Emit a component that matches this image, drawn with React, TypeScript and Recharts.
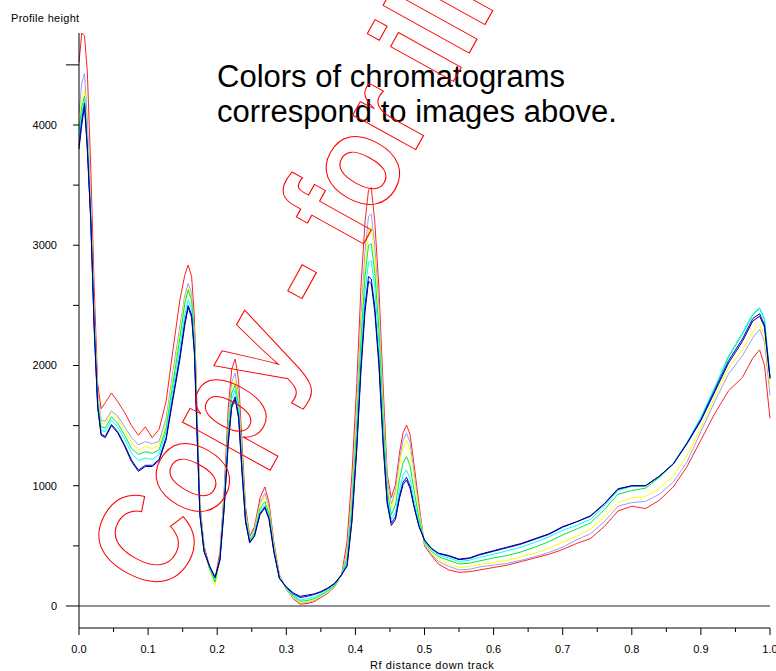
import React from "react";
import { LineChart, Line, XAxis, YAxis, ReferenceLine } from "recharts";

// Rf positions (shared by every track)
const RF = [
  0, 0.004, 0.008, 0.012, 0.017, 0.022, 0.027, 0.032, 0.038, 0.047,
  0.056, 0.066, 0.076, 0.086, 0.096, 0.106, 0.116, 0.126, 0.136, 0.146,
  0.153, 0.158, 0.163, 0.167, 0.171, 0.175, 0.181, 0.189, 0.197, 0.204,
  0.21, 0.216, 0.221, 0.226, 0.231, 0.236, 0.241, 0.247, 0.254, 0.262,
  0.269, 0.275, 0.282, 0.29, 0.3, 0.31, 0.32, 0.33, 0.34, 0.35,
  0.36, 0.37, 0.38, 0.388, 0.395, 0.402, 0.408, 0.414, 0.419, 0.423,
  0.428, 0.434, 0.44, 0.446, 0.452, 0.458, 0.464, 0.469, 0.474, 0.479,
  0.485, 0.492, 0.5, 0.51, 0.52, 0.535, 0.55, 0.565, 0.58, 0.6,
  0.62, 0.64, 0.66, 0.68, 0.7, 0.72, 0.74, 0.76, 0.78, 0.8,
  0.82, 0.84, 0.86, 0.88, 0.9, 0.92, 0.94, 0.96, 0.975, 0.985,
  0.992, 1.0,
];

const RED = [
  4520, 4765, 4740, 4450, 3650, 2650, 1850, 1640, 1690, 1771,
  1700, 1610, 1500, 1420, 1490, 1400, 1470, 1700, 2130, 2545,
  2750, 2836, 2740, 2400, 1600, 860, 500, 330, 230, 450,
  950, 1650, 1970, 2054, 1880, 1350, 830, 580, 660, 900,
  990, 860, 530, 260, 140, 60, 15, 20, 35, 70,
  105, 160, 260, 540, 1100, 1850, 2650, 3200, 3460, 3480,
  3200, 2650, 1850, 1100, 900, 1010, 1280, 1440, 1505, 1430,
  1170, 850, 500, 420, 350, 300, 280, 285, 300, 320,
  340, 370, 400, 430, 470, 520, 560, 660, 790, 830,
  810, 880, 990, 1160, 1380, 1600, 1790, 1900, 2060, 2130,
  2000, 1560,
];

const LAVENDER = [
  4100, 4350, 4430, 4050, 3380, 2450, 1780, 1540, 1540, 1622,
  1580, 1490, 1400, 1340, 1366, 1350, 1370, 1560, 1950, 2330,
  2580, 2683, 2600, 2300, 1530, 830, 480, 310, 200, 410,
  900, 1550, 1860, 1935, 1760, 1260, 790, 570, 640, 860,
  937, 820, 510, 255, 140, 65, 25, 30, 45, 75,
  110, 160, 255, 460, 930, 1650, 2400, 2950, 3240, 3260,
  3000, 2480, 1720, 1040, 850, 960, 1230, 1380, 1437, 1360,
  1110, 810, 510, 430, 370, 330, 300, 305, 325, 340,
  355, 380, 410, 445, 490, 550, 600, 700, 830, 860,
  870, 930, 1030, 1200, 1450, 1700, 1930, 2080, 2230, 2300,
  2200, 1750,
];

const YELLOW = [
  4000, 4220, 4300, 3930, 3300, 2400, 1740, 1520, 1520, 1605,
  1560, 1460, 1360, 1300, 1325, 1310, 1340, 1520, 1900, 2280,
  2550, 2642, 2560, 2250, 1500, 810, 470, 300, 175, 390,
  880, 1500, 1810, 1879, 1710, 1220, 770, 560, 625, 840,
  909, 800, 500, 250, 140, 70, 30, 35, 50, 80,
  115, 165, 255, 430, 880, 1580, 2300, 2850, 3130, 3150,
  2900, 2400, 1650, 1000, 820, 920, 1170, 1320, 1380, 1300,
  1060, 780, 520, 440, 390, 350, 320, 330, 345, 360,
  380, 410, 440, 480, 530, 580, 640, 740, 860, 900,
  910, 980, 1080, 1250, 1480, 1740, 1980, 2130, 2280, 2340,
  2250, 1820,
];

const GREEN = [
  3950, 4150, 4240, 3880, 3260, 2370, 1710, 1490, 1480, 1574,
  1520, 1420, 1310, 1260, 1283, 1270, 1300, 1480, 1850, 2230,
  2510, 2628, 2540, 2230, 1480, 800, 470, 310, 200, 400,
  870, 1470, 1770, 1838, 1670, 1190, 750, 550, 610, 810,
  867, 770, 480, 240, 145, 80, 40, 45, 60, 90,
  125, 170, 255, 400, 830, 1500, 2200, 2750, 3000, 3010,
  2780, 2300, 1560, 960, 760, 840, 1060, 1190, 1242, 1170,
  960, 730, 530, 455, 410, 380, 350, 355, 375, 400,
  420, 450, 490, 535, 590, 640, 690, 800, 930, 960,
  980, 1070, 1180, 1360, 1560, 1810, 2070, 2260, 2420, 2475,
  2380, 1900,
];

const CYAN = [
  3900, 4100, 4210, 3850, 3240, 2340, 1690, 1460, 1450, 1547,
  1490, 1390, 1270, 1210, 1228, 1220, 1260, 1450, 1800, 2150,
  2420, 2545, 2470, 2180, 1450, 780, 460, 320, 220, 400,
  850, 1430, 1720, 1796, 1630, 1160, 730, 540, 600, 790,
  840, 745, 465, 235, 150, 90, 50, 60, 75, 100,
  135, 180, 260, 370, 780, 1420, 2100, 2620, 2860, 2870,
  2650, 2180, 1480, 920, 720, 780, 970, 1090, 1131, 1060,
  880, 690, 540, 470, 425, 400, 370, 380, 405, 430,
  460, 490, 530, 575, 630, 670, 720, 830, 960, 995,
  1000, 1080, 1185, 1360, 1570, 1820, 2080, 2270, 2430, 2480,
  2390, 1910,
];

const BLUE = [
  3830, 4040, 4180, 3820, 3220, 2320, 1670, 1430, 1410, 1510,
  1450, 1340, 1215, 1130, 1170, 1170, 1220, 1400, 1740, 2080,
  2360, 2500, 2420, 2120, 1420, 760, 455, 330, 235, 390,
  820, 1380, 1670, 1740, 1580, 1120, 710, 530, 585, 770,
  825, 730, 455, 230, 155, 100, 70, 80, 95, 115,
  145, 185, 260, 340, 720, 1330, 1990, 2500, 2740, 2720,
  2490, 2040, 1380, 870, 690, 740, 920, 1030, 1070, 1000,
  830, 665, 545, 478, 436, 415, 385, 395, 425, 455,
  485, 515, 555, 595, 655, 700, 745, 845, 970, 1000,
  1000, 1080, 1182, 1355, 1550, 1795, 2040, 2220, 2390, 2430,
  2340, 1900,
];

const NAVY = [
  3800, 4000, 4160, 3800, 3200, 2300, 1650, 1420, 1400, 1500,
  1440, 1330, 1200, 1120, 1160, 1160, 1210, 1380, 1720, 2050,
  2330, 2484, 2400, 2100, 1400, 750, 450, 330, 240, 380,
  800, 1350, 1650, 1720, 1560, 1100, 700, 525, 580, 760,
  815, 720, 450, 230, 160, 110, 80, 90, 100, 120,
  150, 190, 260, 330, 700, 1300, 1950, 2450, 2700, 2680,
  2450, 2000, 1350, 850, 670, 720, 900, 1010, 1048, 980,
  820, 660, 550, 480, 440, 420, 390, 400, 430, 460,
  490, 520, 560, 600, 660, 700, 750, 850, 975, 1000,
  1000, 1080, 1180, 1350, 1540, 1780, 2020, 2200, 2370, 2410,
  2320, 1890,
];

const X_TICKS = [0, 0.05, 0.1, 0.15, 0.2, 0.25, 0.3, 0.35, 0.4, 0.45, 0.5, 0.55, 0.6, 0.65, 0.7, 0.75, 0.8, 0.85, 0.9, 0.95, 1.0];
const Y_TICKS = [0, 500, 1000, 1500, 2000, 2500, 3000, 3500, 4000, 4500];

const SERIES = [
  { key: "red", color: "#ff2020", values: RED },
  { key: "lavender", color: "#9a9aff", values: LAVENDER },
  { key: "yellow", color: "#ffff00", values: YELLOW },
  { key: "green", color: "#00e83c", values: GREEN },
  { key: "cyan", color: "#00ffff", values: CYAN },
  { key: "blue", color: "#0000ff", values: BLUE },
  { key: "navy", color: "#000070", values: NAVY },
];

const data = RF.map((x, i) => {
  const row: Record<string, number> = { x };
  SERIES.forEach((s) => (row[s.key] = s.values[i]));
  return row;
});

const FONT = "'Liberation Sans', Arial, sans-serif";

function XTick(props: any) {
  const { x, y, payload } = props;
  const v = payload.value;
  const major = Math.round(v * 100) % 10 === 0;
  return (
    <g>
      <line x1={x} y1={y} x2={x} y2={y + (major ? 7 : 4)} stroke="#000" />
      {major && (
        <text x={x} y={y + 25} textAnchor="middle" fontSize={11} fontFamily={FONT} fill="#000">
          {v.toFixed(1)}
        </text>
      )}
    </g>
  );
}

function YTick(props: any) {
  const { x, y, payload } = props;
  const v = payload.value;
  const long = v === 0 || v === 4500;
  return (
    <g>
      <line x1={x - (long ? 13 : 6)} y1={y} x2={x} y2={y} stroke="#000" />
      {v % 1000 === 0 && v <= 4000 && (
        <text x={x - 22} y={y + 4} textAnchor="end" fontSize={11} fontFamily={FONT} fill="#000">
          {v}
        </text>
      )}
    </g>
  );
}

export default function App() {
  return (
    <div style={{ position: "relative", width: 776, height: 671, background: "#fff", fontFamily: FONT }}>
      <style>{`body{margin:0}`}</style>
      <LineChart width={776} height={671} data={data} margin={{ top: 33, right: 6, bottom: 0, left: 0 }}>
        <XAxis
          dataKey="x"
          type="number"
          domain={[0, 1]}
          ticks={X_TICKS}
          interval={0}
          height={43}
          tickSize={0}
          tickMargin={0}
          tickLine={false}
          axisLine={{ stroke: "#000" }}
          tick={<XTick />}
        />
        <YAxis
          type="number"
          domain={[-183, 4765]}
          allowDataOverflow
          ticks={Y_TICKS}
          interval={0}
          width={79}
          tickSize={0}
          tickMargin={0}
          tickLine={false}
          axisLine={{ stroke: "#000" }}
          tick={<YTick />}
        />
        <ReferenceLine y={0} stroke="#222" />
        {SERIES.map((s) => (
          <Line
            key={s.key}
            dataKey={s.key}
            type="linear"
            stroke={s.color}
            strokeWidth={1}
            dot={false}
            isAnimationActive={false}
          />
        ))}
      </LineChart>
      <svg
        width={776}
        height={671}
        style={{ position: "absolute", left: 0, top: 0, pointerEvents: "none" }}
      >
        <text x={11} y={22} fontSize={11} fontFamily={FONT} fill="#000" letterSpacing={0.3}>
          Profile height
        </text>
        <text x={370} y={669} fontSize={11} fontFamily={FONT} fill="#000" letterSpacing={0.6}>
          Rf distance down track
        </text>
        <text x={217} y={87} fontSize={31} fontFamily={FONT} fill="#000">
          Colors of chromatograms
        </text>
        <text x={217} y={122} fontSize={31} fontFamily={FONT} fill="#000">
          correspond to images above.
        </text>
        <text
          transform="translate(166,600) rotate(-61) scale(0.86,1)"
          fontSize={136}
          fontWeight="bold"
          fontFamily={FONT}
          fill="none"
          stroke="#ff0000"
          strokeWidth={1.1}
        >
          Copy - for illustration only
        </text>
      </svg>
    </div>
  );
}
